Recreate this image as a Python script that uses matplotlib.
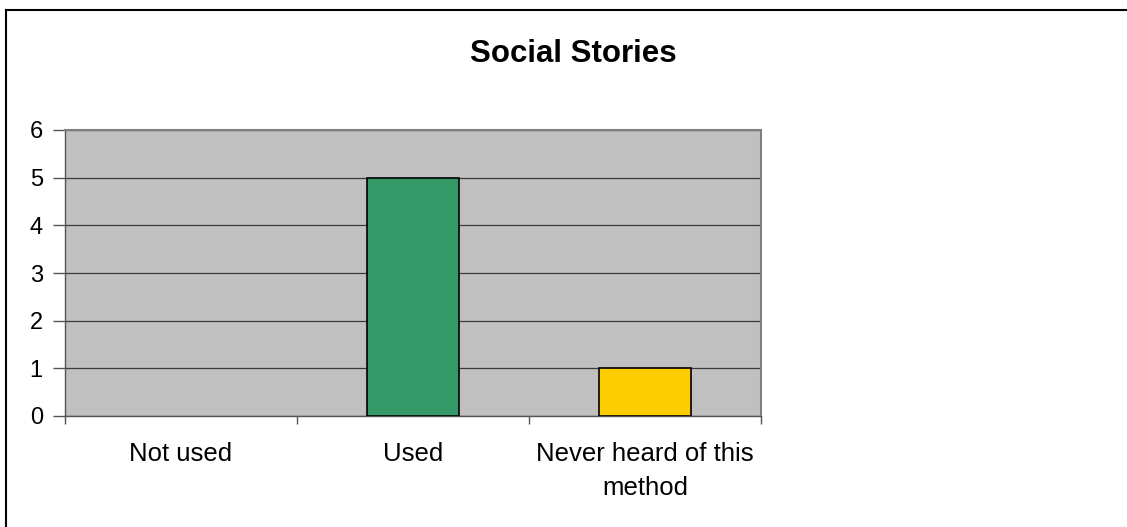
import matplotlib
matplotlib.use("Agg")
import matplotlib.pyplot as plt
from matplotlib.lines import Line2D

categories = ["Not used", "Used", "Never heard of this\nmethod"]
values = [0, 5, 1]
colors = ["#9999FF", "#339966", "#FFCC00"]
title = "Social Stories"
yticks = [0, 1, 2, 3, 4, 5, 6]

plt.rcParams['font.family'] = ['Liberation Sans', 'DejaVu Sans']

W, H = 1127, 527
fig = plt.figure(figsize=(W / 100, H / 100), dpi=100)
fig.patch.set_facecolor("white")

# figure border (top and left visible)
fig.add_artist(Line2D([6 / W, 6 / W], [0, 1 - 10 / H], transform=fig.transFigure,
                      color="#000000", lw=1.5))
fig.add_artist(Line2D([6 / W, 1], [1 - 10 / H, 1 - 10 / H], transform=fig.transFigure,
                      color="#000000", lw=1.5))

left, right, top, bottom = 65, 761, 130, 416
ax = fig.add_axes([left / W, 1 - bottom / H, (right - left) / W, (bottom - top) / H])
ax.set_facecolor("#C0C0C0")

x = list(range(len(categories)))
bars = ax.bar(x, values, width=0.4, color=colors, edgecolor="black", linewidth=1.2, zorder=3)
for b, v in zip(bars, values):
    if v == 0:
        b.set_linewidth(0)

ax.set_xlim(-0.5, len(categories) - 0.5)
ax.set_ylim(0, 6)
ax.set_yticks(yticks)
ax.set_yticklabels([str(t) for t in yticks], fontsize=17)
ax.yaxis.grid(True, color="#3a3a3a", linewidth=0.9, zorder=1)
ax.set_axisbelow(True)

ax.set_xticks([-0.5, 0.5, 1.5, 2.5])
ax.set_xticklabels([])
ax.set_xticks(x, minor=True)
ax.set_xticklabels(categories, minor=True, fontsize=18.5, linespacing=1.5)
ax.tick_params(axis="x", which="minor", length=0, pad=19)
ax.tick_params(axis="x", which="major", length=6, color="#555555", width=1)
ax.tick_params(axis="y", length=9, color="#555555", width=1, pad=7)

for s in ["top", "right"]:
    ax.spines[s].set_color("#808080")
    ax.spines[s].set_linewidth(1.5)
for s in ["left", "bottom"]:
    ax.spines[s].set_color("#555555")
    ax.spines[s].set_linewidth(1)

fig.text(573 / W, 1 - 54 / H, title, ha="center", va="center",
         fontsize=22.5, fontweight="bold")

fig.savefig("out.png", dpi=100)
